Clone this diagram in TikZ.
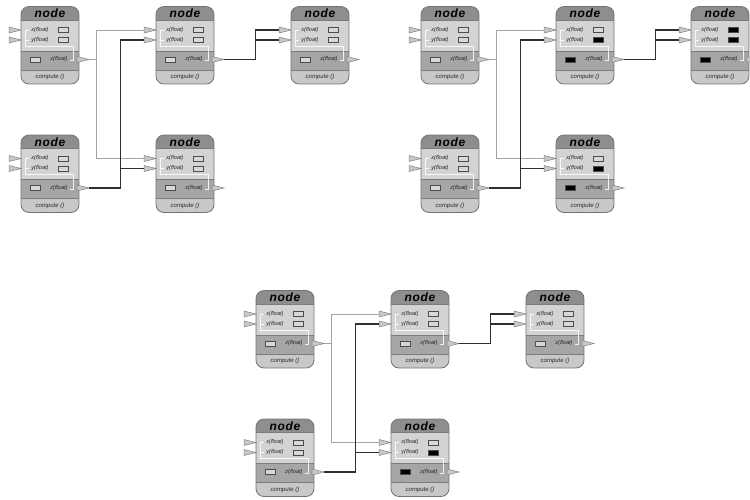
\documentclass[tikz,border=0pt]{standalone}
\usepackage{fontspec}
\setmainfont{Liberation Sans}
\newfontfamily\hdrfont[LetterSpace=6]{Liberation Sans}
\definecolor{hdrcol}{HTML}{8E8E8E}
\definecolor{inpcol}{HTML}{D3D3D3}
\definecolor{outcol}{HTML}{A6A6A6}
\definecolor{cmpcol}{HTML}{C8C8C8}
\definecolor{bordercol}{HTML}{727272}
\definecolor{sepcol}{HTML}{7C7C7C}
\definecolor{tricol}{HTML}{C8C8C8}
\definecolor{triedge}{HTML}{858585}
\definecolor{boxlight}{HTML}{D8D8D8}
\definecolor{boxdark}{HTML}{000000}
\definecolor{glinecol}{HTML}{A4A4A4}
\definecolor{blinecol}{HTML}{2E2E2E}
\tikzset{
  hdr/.style={font=\hdrfont\bfseries\itshape\fontsize{12}{12}\selectfont, inner sep=0pt},
  lbl/.style={font=\itshape\fontsize{5.6}{6}\selectfont, inner sep=0pt, text=black!85},
  cmplbl/.style={font=\itshape\fontsize{6}{7}\selectfont, inner sep=0pt, text=black!85},
  valbox/.style={draw=black!70, line width=0.6pt, minimum width=10pt, minimum height=5pt, inner sep=0pt},
  tri/.style={fill=tricol, draw=triedge, line width=0.5pt, line join=miter},
  brk/.style={draw=white, line width=0.7pt, opacity=0.85},
  gline/.style={draw=glinecol, line width=1pt},
  bline/.style={draw=blinecol, line width=1.1pt}
}
% #1 name, #2 X, #3 Y, #4 x box fill, #5 y box fill, #6 z box fill
\newcommand\flownode[6]{%
  \begin{scope}[shift={(#2,#3)}]
    \begin{scope}
      \clip[rounded corners=8pt] (0,0) rectangle (58,77.5);
      \fill[hdrcol] (0,0) rectangle (58,13.5);
      \fill[inpcol] (0,13.5) rectangle (58,44.5);
      \fill[outcol] (0,44.5) rectangle (58,63.5);
      \fill[cmpcol] (0,63.5) rectangle (58,77.5);
      \draw[sepcol, line width=0.6pt] (0,13.5) -- (58,13.5) (0,44.5) -- (58,44.5) (0,63.5) -- (58,63.5);
    \end{scope}
    \draw[bordercol, line width=0.8pt, rounded corners=8pt] (0,0) rectangle (58,77.5);
    \draw[brk] (8,23.5) -- (4,23.5) -- (4,39.5) -- (52,39.5) -- (52,54) -- (49,54)
               (4,33.5) -- (8,33.5);
    \node[hdr] (#1-t) at (29,7) {node};
    \node[lbl] (#1-xl) at (19,23.5) {x(float)};
    \node[lbl] (#1-yl) at (19,33.5) {y(float)};
    \node[lbl] (#1-zl) at (38,53) {z(float)};
    \node[cmplbl] (#1-c) at (29,70.5) {compute ()};
    \node[valbox, fill=#4] (#1-xb) at (42.5,23.5) {};
    \node[valbox, fill=#5] (#1-yb) at (42.5,33.5) {};
    \node[valbox, fill=#6] (#1-zb) at (14.5,53) {};
    \draw[tri] (-12,20.5) -- (0,23.5) -- (-12,26.5) -- cycle;
    \draw[tri] (-12,30.5) -- (0,33.5) -- (-12,36.5) -- cycle;
    \draw[tri] (56,50) -- (68,53) -- (56,56) -- cycle;
    \coordinate (#1-x) at (-12,23.5);
    \coordinate (#1-y) at (-12,33.5);
    \coordinate (#1-z) at (68,53);
  \end{scope}}
\begin{document}
\begin{tikzpicture}[x=1pt,y=-1pt]
\fill[white] (0,0) rectangle (750,499);
\useasboundingbox (0,0) rectangle (750,499);
% panel 1
\flownode{a}{21}{6.5}{boxlight}{boxlight}{boxlight}
\flownode{b}{156}{6.5}{boxlight}{boxlight}{boxlight}
\flownode{c}{291}{6.5}{boxlight}{boxlight}{boxlight}
\flownode{d}{21}{135}{boxlight}{boxlight}{boxlight}
\flownode{e}{156}{135}{boxlight}{boxlight}{boxlight}
% panel 2
\flownode{f}{421}{6.5}{boxlight}{boxlight}{boxlight}
\flownode{g}{556}{6.5}{boxlight}{boxdark}{boxdark}
\flownode{h}{691}{6.5}{boxdark}{boxdark}{boxdark}
\flownode{i}{421}{135}{boxlight}{boxlight}{boxlight}
\flownode{j}{556}{135}{boxlight}{boxdark}{boxdark}
% panel 3
\flownode{k}{256}{290.5}{boxlight}{boxlight}{boxlight}
\flownode{l}{391}{290.5}{boxlight}{boxlight}{boxlight}
\flownode{m}{526}{290.5}{boxlight}{boxlight}{boxlight}
\flownode{n}{256}{419}{boxlight}{boxlight}{boxlight}
\flownode{o}{391}{419}{boxlight}{boxdark}{boxdark}
% connectors panel 1
\draw[gline] (a-z) -- ++(7.7,0) |- (b-x);
\draw[gline] (a-z) -- ++(7.7,0) |- (e-x);
\draw[bline] (d-z) -- ++(31.7,0) |- (b-y);
\draw[bline] (d-z) -- ++(31.7,0) |- (e-y);
\draw[bline] (b-z) -- ++(31.5,0) |- (c-x);
\draw[bline] (b-z) -- ++(31.5,0) |- (c-y);
% connectors panel 2
\draw[gline] (f-z) -- ++(7.7,0) |- (g-x);
\draw[gline] (f-z) -- ++(7.7,0) |- (j-x);
\draw[bline] (i-z) -- ++(31.7,0) |- (g-y);
\draw[bline] (i-z) -- ++(31.7,0) |- (j-y);
\draw[bline] (g-z) -- ++(31.5,0) |- (h-x);
\draw[bline] (g-z) -- ++(31.5,0) |- (h-y);
% connectors panel 3
\draw[gline] (k-z) -- ++(7.7,0) |- (l-x);
\draw[gline] (k-z) -- ++(7.7,0) |- (o-x);
\draw[bline] (n-z) -- ++(31.7,0) |- (l-y);
\draw[bline] (n-z) -- ++(31.7,0) |- (o-y);
\draw[bline] (l-z) -- ++(31.5,0) |- (m-x);
\draw[bline] (l-z) -- ++(31.5,0) |- (m-y);
\end{tikzpicture}
\end{document}
